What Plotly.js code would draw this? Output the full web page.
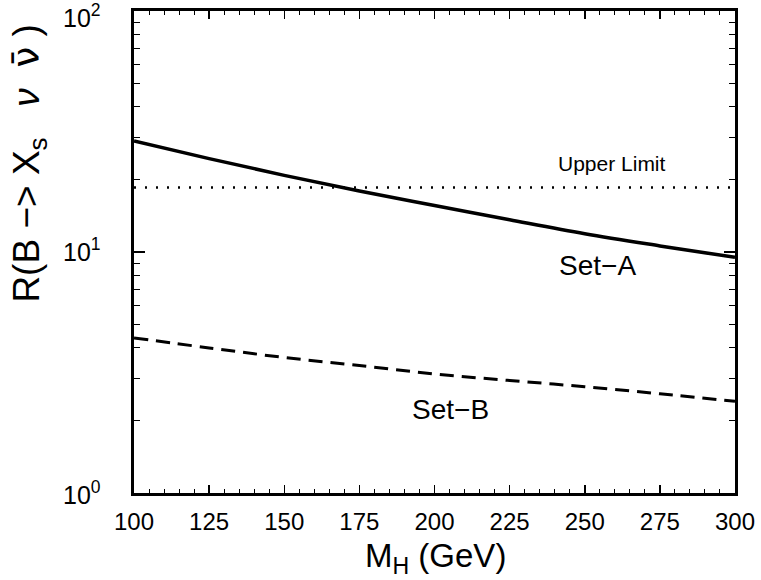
<!DOCTYPE html>
<html>
<head>
<meta charset="utf-8">
<script src="https://cdn.plot.ly/plotly-3.0.1.min.js"></script>
<style>html,body{margin:0;padding:0;background:#fff;}#chart{width:761px;height:580px;}</style>
</head>
<body>
<div id="chart"></div>
<script>
var massH = [100, 125, 150, 175, 200, 225, 250, 275, 300];
var setA = [28.9, 24.4, 20.8, 17.9, 15.6, 13.6, 11.9, 10.6, 9.5];
var setB = [4.4, 4.0, 3.65, 3.38, 3.12, 2.93, 2.76, 2.58, 2.40];
var limitX = [100, 300];
var limitY = [18.5, 18.5];
var xTicks = [100, 125, 150, 175, 200, 225, 250, 275, 300];
var yTicks = [1, 10, 100];
var yTickText = ['10<sup>0</sup>', '10<sup>1</sup>', '10<sup>2</sup>'];
var yMinor = [2,3,4,5,6,7,8,9,20,30,40,50,60,70,80,90];

var FONT = 'Liberation Sans, Arial, sans-serif';

var traces = [
  {x: massH, y: setA, mode: 'lines', line: {color: '#000', width: 3.5, shape: 'spline'}, showlegend: false, hoverinfo: 'skip'},
  {x: massH, y: setB, mode: 'lines', line: {color: '#000', width: 3, dash: '14px,8px', shape: 'spline'}, showlegend: false, hoverinfo: 'skip'},
  {x: limitX, y: limitY, mode: 'lines', line: {color: '#000', width: 2.5, dash: '2px,9px'}, showlegend: false, hoverinfo: 'skip'}
];

var annotations = [
  {xref: 'paper', yref: 'paper', x: -0.175, y: 0.683, xanchor: 'center', yanchor: 'middle', textangle: -90,
   text: 'R(B \u2212> X<sub>s</sub>   <i>\u03bd</i>  <span style="font-family:DejaVu Sans">\u03bd\u0304</span> )', showarrow: false, font: {size: 37, family: FONT}},
  {xref: 'paper', yref: 'paper', x: 0.502, y: -0.135, xanchor: 'center', yanchor: 'middle',
   text: 'M<sub>H</sub> (GeV)', showarrow: false, font: {size: 33, family: FONT}},
  {x: 259, y: Math.log10(23.4), text: 'Upper Limit', showarrow: false, font: {size: 21, family: FONT}},
  {x: 254.4, y: Math.log10(8.75), text: 'Set\u2212A', showarrow: false, font: {size: 28, family: FONT}},
  {x: 205.2, y: Math.log10(2.23), text: 'Set\u2212B', showarrow: false, font: {size: 28, family: FONT}}
];
var yShifts = [0, 2, -5];
yTicks.forEach(function (v, i) {
  annotations.push({xref: 'paper', yref: 'y', x: -0.052, y: Math.log10(v), xanchor: 'right', yanchor: 'middle',
    yshift: yShifts[i], text: yTickText[i], showarrow: false, font: {size: 25, family: FONT}});
});

var layout = {
  width: 761, height: 580,
  margin: {l: 134, r: 26, t: 11, b: 87},
  paper_bgcolor: '#fff', plot_bgcolor: '#fff',
  font: {family: FONT, color: '#000'},
  xaxis: {
    range: [100, 300], tickvals: xTicks, ticks: 'inside', ticklen: 8, tickwidth: 1.5, tickcolor: '#000',
    minor: {dtick: 5, ticks: 'inside', ticklen: 4, tickwidth: 1, tickcolor: '#000', showgrid: false},
    showline: true, linewidth: 3, linecolor: '#000', mirror: 'ticks', showgrid: false, zeroline: false,
    tickfont: {size: 24, family: FONT}, ticklabelstandoff: 5, ticklabeloverflow: 'allow'
  },
  yaxis: {
    type: 'log', range: [0, 2], tickvals: yTicks, showticklabels: false, ticks: 'inside', ticklen: 11, tickwidth: 1.5, tickcolor: '#000',
    minor: {tickvals: yMinor, ticks: 'inside', ticklen: 6, tickwidth: 1, tickcolor: '#000', showgrid: false},
    showline: true, linewidth: 3, linecolor: '#000', mirror: 'ticks', showgrid: false, zeroline: false
  },
  annotations: annotations
};

Plotly.newPlot('chart', traces, layout, {staticPlot: true, displayModeBar: false});
</script>
</body>
</html>
